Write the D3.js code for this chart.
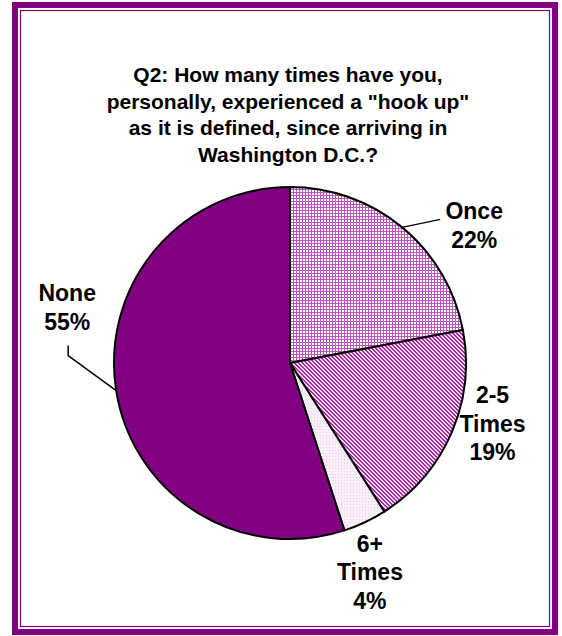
<!DOCTYPE html>
<html><head><meta charset="utf-8">
<script src="https://cdn.jsdelivr.net/npm/d3@7"></script>
<style>body{margin:0;background:#fff}svg{display:block}</style>
</head><body>
<script>
const categories = ["Once", "2-5 Times", "6+ Times", "None"];
const values = [22, 19, 4, 55];
const labelLines = [["Once", "22%"], ["2-5", "Times", "19%"], ["6+", "Times", "4%"], ["None", "55%"]];
const titleLines = ["Q2: How many times have you,", "personally, experienced a \"hook up\"", "as it is defined, since arriving in", "Washington D.C.?"];

const W = 562, H = 636;
const svg = d3.select("body").append("svg").attr("width", W).attr("height", H);
const defs = svg.append("defs");

// patterns
const pGrid = defs.append("pattern").attr("id","pGrid").attr("width",3).attr("height",3).attr("patternUnits","userSpaceOnUse");
pGrid.append("rect").attr("width",3).attr("height",3).attr("fill","#fff");
pGrid.append("rect").attr("width",1).attr("height",3).attr("fill","#bb55bb");
pGrid.append("rect").attr("width",3).attr("height",1).attr("fill","#bb55bb");

const pDiag = defs.append("pattern").attr("id","pDiag").attr("width",4).attr("height",4).attr("patternUnits","userSpaceOnUse");
pDiag.append("rect").attr("width",4).attr("height",4).attr("fill","#f4d8f4");
[[0,0],[1,0],[1,1],[2,1],[2,2],[3,2],[3,3],[0,3]].forEach(([x,y]) =>
  pDiag.append("rect").attr("x",x).attr("y",y).attr("width",1).attr("height",1).attr("fill","#a82aa8"));

const pLight = defs.append("pattern").attr("id","pLight").attr("width",3).attr("height",3).attr("patternUnits","userSpaceOnUse");
pLight.append("rect").attr("width",3).attr("height",3).attr("fill","#fbeefb");
pLight.append("rect").attr("width",1).attr("height",1).attr("fill","#ecc8ec");

const pDark = defs.append("pattern").attr("id","pDark").attr("width",2).attr("height",2).attr("patternUnits","userSpaceOnUse");
pDark.append("rect").attr("width",2).attr("height",2).attr("fill","#860086");
pDark.append("rect").attr("width",1).attr("height",1).attr("fill","#760076");

const fills = d3.scaleOrdinal().domain(categories).range(["url(#pGrid)","url(#pDiag)","url(#pLight)","url(#pDark)"]);

// frame
svg.append("rect").attr("x",12).attr("y",2).attr("width",546).attr("height",633).attr("fill","#800080");
svg.append("rect").attr("x",18).attr("y",8).attr("width",534).attr("height",621).attr("fill","#fff");
svg.append("rect").attr("x",20.5).attr("y",10.5).attr("width",529).attr("height",616).attr("fill","#fff").attr("stroke","#800080").attr("stroke-width",1.2);

// title
const title = svg.append("text").attr("text-anchor","middle")
  .attr("font-family","Liberation Sans, Arial, sans-serif").attr("font-weight","bold").attr("font-size",21);
titleLines.forEach((t,i) => title.append("tspan").attr("x",288).attr("y",82 + i*26.7).text(t));

// pie
const cx = 290, cy = 363, R = 176;
const pie = d3.pie().sort(null).value(d => d.v);
const data = pie(categories.map((c,i) => ({c, v: values[i], lines: labelLines[i]})));
const arc = d3.arc().innerRadius(0).outerRadius(R);
const g = svg.append("g").attr("transform",`translate(${cx},${cy})`);
g.selectAll("path").data(data).join("path")
  .attr("d", arc).attr("fill", d => fills(d.data.c))
  .attr("stroke","#000").attr("stroke-width",2).attr("stroke-linejoin","round");

// labels, positioned relative to the slice's outer edge at its mid angle
const labelOffset = {"Once":[72,-2], "2-5 Times":[41,-9], "6+ Times":[5,50], "None":[-49,-83]};
const leaders = {"Once":[[0,0],[38,-8]], "None":[[0,0],[-48,-35],[-48,-45]]};
const lineH = 28.5;
data.forEach(d => {
  const a = (d.startAngle + d.endAngle)/2;
  const ex = Math.sin(a)*R, ey = -Math.cos(a)*R;
  const [ox, oy] = labelOffset[d.data.c];
  const n = d.data.lines.length;
  const t = g.append("text").attr("text-anchor","middle")
    .attr("font-family","Liberation Sans, Arial, sans-serif").attr("font-weight","bold").attr("font-size",23);
  d.data.lines.forEach((s,i) => t.append("tspan").attr("x", ex+ox)
    .attr("y", ey+oy + (i - (n-1)/2)*lineH + 8).text(s));
  const L = leaders[d.data.c];
  if (L) g.append("path").attr("d", d3.line()(L.map(p => [ex+p[0], ey+p[1]])))
    .attr("fill","none").attr("stroke","#000").attr("stroke-width",1.5);
});
</script>
</body></html>
